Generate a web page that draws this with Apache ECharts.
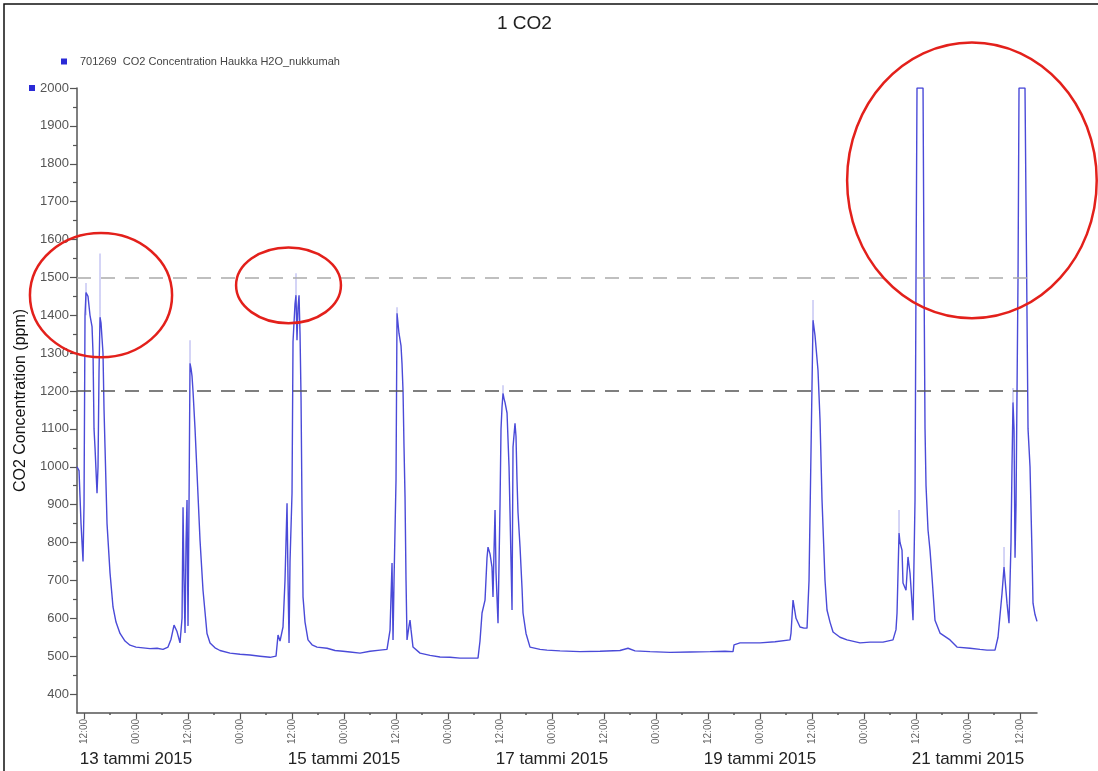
<!DOCTYPE html>
<html>
<head>
<meta charset="utf-8">
<script src="https://cdn.jsdelivr.net/npm/echarts@6/dist/echarts.min.js"></script>
<style>
html,body{margin:0;padding:0;background:#fff;}
#chart{width:1098px;height:771px;}
</style>
</head>
<body>
<div id="chart"></div>
<script>
// Hours since 13 Jan 2015 00:00
const hours = [-13.62,-13.15,-12.92,-12.69,-12.23,-12.00,-11.77,-11.54,-11.08,-10.62,-10.15,-9.92,-9.69,-9.46,-9.00,-8.77,-8.54,-8.31,-8.08,-7.85,-7.62,-7.38,-7.15,-6.69,-6.00,-5.31,-4.62,-3.69,-2.54,-1.38,0,1.62,3.23,4.85,6.23,7.38,8.08,8.77,9.46,10.15,10.62,10.85,11.08,11.31,11.54,11.77,12.00,12.23,12.46,12.69,12.92,13.15,13.62,14.08,14.77,15.46,16.38,17.08,18.23,19.38,21.69,24.00,26.31,28.62,30.92,32.31,32.77,33.23,33.92,34.38,34.85,35.08,35.31,35.54,36.00,36.23,36.69,36.92,37.15,37.38,37.62,37.85,38.08,38.31,38.54,39.00,39.69,40.62,41.77,44.08,45.92,47.77,49.38,51.69,54.00,56.31,57.92,58.62,59.08,59.31,59.54,60.00,60.23,60.46,60.69,61.15,61.38,61.62,61.85,62.08,62.31,62.54,63.00,63.23,63.46,63.92,65.54,67.85,70.15,72.46,74.77,77.08,78.92,79.38,79.85,80.54,81.00,81.23,81.69,82.15,82.38,82.62,82.85,83.08,83.54,84.00,84.23,84.46,84.69,84.92,85.15,85.62,86.08,86.31,86.54,86.77,87.00,87.46,87.69,87.92,88.15,88.62,89.08,89.31,90.00,90.92,93.23,94.85,97.85,102.46,107.08,111.69,113.54,115.15,118.62,123.23,127.85,132.46,135.92,137.77,138.00,139.38,144.00,147.46,150.92,151.15,151.62,152.31,153.23,154.15,154.85,155.31,155.77,156.23,156.69,157.38,157.85,158.31,159.00,159.46,160.15,160.85,162.46,164.08,167.08,169.38,172.38,174.69,175.38,175.62,176.08,176.31,176.77,177.00,177.69,178.15,178.62,179.08,179.31,179.77,180.00,180.23,181.62,181.85,182.08,182.31,182.77,183.23,183.69,184.38,185.54,187.85,189.46,192.46,194.77,196.38,198.23,198.92,199.85,200.31,200.54,201.00,201.46,201.92,202.15,202.38,202.62,202.85,203.08,203.54,203.77,205.15,205.38,205.85,206.31,206.77,207.00,207.46,207.92];
const co2 = [1000,990,920,850,750,900,1400,1460,1450,1400,1370,1300,1100,1050,930,1000,1250,1395,1380,1340,1300,1150,1050,850,720,630,590,560,540,529,524,522,520,521,518,524,545,582,565,535,600,893,700,561,800,912,580,900,1273,1260,1240,1200,1100,983,806,674,560,535,522,515,508,505,503,500,497,500,556,540,577,700,904,700,535,750,930,1330,1430,1453,1334,1420,1453,1350,1184,886,656,590,543,530,524,521,515,513,511,508,513,516,518,569,746,543,700,965,1405,1400,1352,1320,1273,1200,1050,920,700,543,580,595,570,524,508,502,498,497,495,495,495,540,614,648,760,788,770,735,656,780,886,720,587,900,1100,1157,1194,1180,1170,1142,1000,878,750,622,1052,1115,1080,965,880,788,680,614,560,524,518,516,514,512,513,515,521,514,512,510,511,512,513,512,530,535,535,538,543,560,648,600,577,574,574,700,1043,1387,1347,1255,1123,912,700,622,590,564,550,543,535,537,537,543,570,614,825,800,780,693,674,762,719,640,595,912,1500,2000,2000,1500,1100,950,833,780,709,595,561,543,524,521,518,516,516,550,666,735,740,640,587,800,1000,1170,1100,760,900,1500,2000,2000,1700,1100,1000,772,640,610,592];

// Light envelope spikes (hour, low, high)
const spikeHours = [-11.54,-8.31,12.46,36.92,60.23,84.69,156.23,176.08,200.31,202.38];
const spikeLow   = [1400,1395,1273,1453,1405,1194,1387,825,735,1170];
const spikeHigh  = [1485,1563,1334,1511,1421,1215,1440,886,788,1208];

const majorTicksX = [-12,0,12,24,36,48,60,72,84,96,108,120,132,144,156,168,180,192,204];
const minorTicksX = [-6,6,18,30,42,54,66,78,90,102,114,126,138,150,162,174,186,198];
const dateTicks = [0,48,96,144,192];
const yMajor = [400,500,600,700,800,900,1000,1100,1200,1300,1400,1500,1600,1700,1800,1900,2000];
const yMinor = [450,550,650,750,850,950,1050,1150,1250,1350,1450,1550,1650,1750,1850,1950];
const refLines = [1500,1200];
const seriesName = '701269  CO2 Concentration Haukka H2O_nukkumah';
// Hand-drawn highlight ellipses: [centerHour, centerPpm, radiusHours, radiusPpm]
const highlights = [[-8.08,1453,16.4,164],[35.19,1479,12.1,100],[192.9,1756,28.8,364]];

const mainData = hours.map((h,i)=>[h,co2[i]]);
const spikeData = [];
spikeHours.forEach((h,i)=>{ spikeData.push([h,spikeLow[i]]); spikeData.push([h,spikeHigh[i]]); spikeData.push([h,'-']); });

const FONT = 'Liberation Sans, Arial, sans-serif';
const chart = echarts.init(document.getElementById('chart'), null, {renderer:'canvas'});
const X_MIN = -13.62, X_MAX = 207.92;

chart.setOption({
  animation:false,
  backgroundColor:'#fff',
  title:{text:'1 CO2',left:492,top:9,textStyle:{fontFamily:FONT,fontSize:19,fontWeight:'normal',color:'#222'}},
  legend:{data:[{name:seriesName,icon:'rect'}],left:56,top:51,itemWidth:6,itemHeight:6,
    textStyle:{fontFamily:FONT,fontSize:11,color:'#444',padding:[0,0,0,8]}},
  grid:{left:77,top:88,right:61,bottom:58,containLabel:false},
  xAxis:[
    {type:'value',min:X_MIN,max:X_MAX,position:'bottom',
      axisLine:{show:true,onZero:false,lineStyle:{color:'#555',width:1.5}},
      axisTick:{show:true,customValues:majorTicksX,length:6,lineStyle:{color:'#555',width:1.2}},
      axisLabel:{show:true,customValues:majorTicksX,rotate:90,margin:6,fontFamily:FONT,fontSize:10,color:'#666',
        formatter:v=>(((Math.round(v)%24)+24)%24===12?'12:00':'00:00')},
      splitLine:{show:false}},
    {type:'value',min:X_MIN,max:X_MAX,position:'bottom',
      axisLine:{show:false,onZero:false},
      axisTick:{show:true,customValues:minorTicksX,length:2,lineStyle:{color:'#555',width:1.5}},
      axisLabel:{show:false},splitLine:{show:false}},
    {type:'value',min:X_MIN,max:X_MAX,position:'bottom',
      axisLine:{show:false,onZero:false},axisTick:{show:false},
      axisLabel:{show:true,customValues:dateTicks,margin:38,fontFamily:FONT,fontSize:17,color:'#222',
        formatter:v=>(13+Math.round(v/24))+' tammi 2015'},
      splitLine:{show:false}}
  ],
  yAxis:[
    {type:'value',min:350,max:2000,position:'left',
      name:'CO2 Concentration (ppm)',nameLocation:'middle',nameGap:48,nameRotate:90,
      nameTextStyle:{fontFamily:FONT,fontSize:16,color:'#111'},
      axisLine:{show:true,onZero:false,lineStyle:{color:'#555',width:1.5}},
      axisTick:{show:true,customValues:yMajor,length:7,lineStyle:{color:'#555',width:1.2}},
      axisLabel:{show:true,customValues:yMajor,margin:8,fontFamily:FONT,fontSize:13,color:'#555',
        formatter:v=>String(Math.round(v))},
      splitLine:{show:false}},
    {type:'value',min:350,max:2000,position:'left',
      axisLine:{show:false,onZero:false},
      axisTick:{show:true,customValues:yMinor,length:4,lineStyle:{color:'#555',width:1.2}},
      axisLabel:{show:false},splitLine:{show:false}}
  ],
  series:[
    {name:seriesName,type:'line',xAxisIndex:0,yAxisIndex:0,data:mainData,showSymbol:false,
      color:'#2a2ad6',lineStyle:{color:'#4a4ad8',width:1.4},
      markLine:{silent:true,symbol:'none',label:{show:false},
        data:[
          {yAxis:refLines[0],lineStyle:{color:'#aaa',type:[14,10],width:1.5}},
          {yAxis:refLines[1],lineStyle:{color:'#555',type:[14,10],width:1.5}}
        ]}},
    {name:'envelope',type:'line',xAxisIndex:0,yAxisIndex:0,data:spikeData,showSymbol:false,connectNulls:false,
      lineStyle:{color:'#b8b8f0',width:1.2},z:1}
  ]
});

function drawHighlights(){
  const g = highlights.map(([h,p,rh,rp])=>{
    const c = chart.convertToPixel({gridIndex:0},[h,p]);
    const e = chart.convertToPixel({gridIndex:0},[h+rh,p+rp]);
    return {type:'ellipse',shape:{cx:c[0],cy:c[1],rx:Math.abs(e[0]-c[0]),ry:Math.abs(c[1]-e[1])},
      style:{fill:'none',stroke:'#e3201b',lineWidth:2.5},z:100,silent:true};
  });
  g.push({type:'rect',shape:{x:4,y:4,width:1200,height:900},style:{fill:'none',stroke:'#111',lineWidth:1.5},z:0,silent:true});
  const corner = chart.convertToPixel({gridIndex:0},[X_MIN,2000]);
  g.push({type:'rect',shape:{x:corner[0]-48,y:corner[1]-3,width:6,height:6},style:{fill:'#2a2ad6'},z:100,silent:true});
  chart.setOption({graphic:g});
}
drawHighlights();
</script>
</body>
</html>
